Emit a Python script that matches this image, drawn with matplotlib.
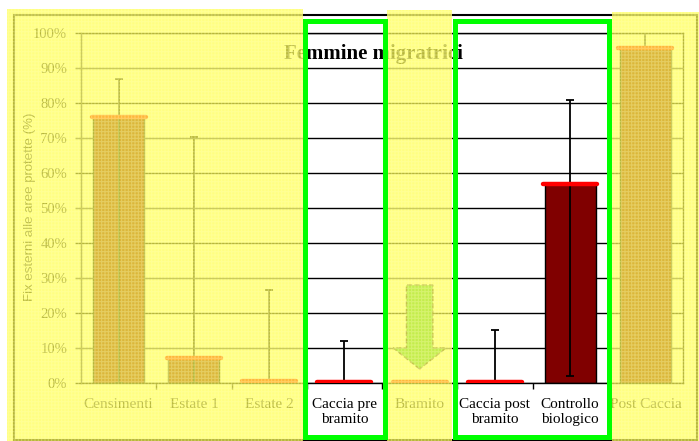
import matplotlib.pyplot as plt
from matplotlib.patches import Rectangle, FancyArrow
import numpy as np

# dati
categorie = ["Censimenti", "Estate 1", "Estate 2", "Caccia pre\nbramito", "Bramito",
             "Caccia post\nbramito", "Controllo\nbiologico", "Post Caccia"]
valori = [0.76, 0.072, 0.005, 0.003, 0.003, 0.003, 0.569, 0.957]
err_su = [0.11, 0.63, 0.26, 0.117, 0.0, 0.149, 0.241, 0.10]
err_giu = [0.76, 0.072, 0.005, 0.003, 0.0, 0.003, 0.549, 0.0]
tick_y = [0.0, 0.1, 0.2, 0.3, 0.4, 0.5, 0.6, 0.7, 0.8, 0.9, 1.0]
freccia = ("Bramito", 0.28, 0.04)  # categoria, inizio, fine

W, H = 699, 441
plt.rcParams['hatch.linewidth'] = 0.8
fig = plt.figure(figsize=(W / 100, H / 100), dpi=100)
fig.patch.set_facecolor("white")

def fx(px):
    return px / W

def fy(py):
    return 1 - py / H

ax = fig.add_axes([fx(81), fy(383), fx(683 - 81), (383 - 33) / H])
x = np.arange(len(categorie))

ax.bar(x, valori, width=0.68, color="#800000", edgecolor="black", linewidth=1, zorder=2)
idx = [i for i in range(len(x)) if err_su[i] > 0]
ax.errorbar(x[idx], np.array(valori)[idx],
            yerr=[np.array(err_giu)[idx], np.array(err_su)[idx]],
            fmt="none", ecolor="black", elinewidth=1.3, capsize=3, capthick=1.3, zorder=3)
lc = ax.hlines(valori, x - 0.36, x + 0.36, colors="#ff0000", linewidth=3.2, zorder=4)
lc.set_capstyle("round")

# freccia sul bramito
xi = categorie.index(freccia[0])
ax.add_patch(FancyArrow(xi, freccia[1], 0, freccia[2] - freccia[1], width=0.35,
                        head_width=0.7, head_length=0.06, length_includes_head=True,
                        facecolor="#30c040", edgecolor="#303030", linestyle="--",
                        linewidth=1, zorder=5))

ax.set_xlim(-0.5, len(categorie) - 0.5)
ax.set_ylim(0, 1)
ax.set_yticks(tick_y)
ax.set_yticklabels([f"{int(round(t * 100))}%" for t in tick_y], family="Liberation Serif", fontsize=10.5)
ax.set_xticks(x)
ax.set_xticklabels(categorie, family="Liberation Serif", fontsize=11, linespacing=1.15)
ax.set_xticks(np.arange(0.5, len(categorie) - 0.5), minor=True)
ax.tick_params(axis="x", which="major", length=0, pad=11)
ax.tick_params(axis="x", which="minor", length=4, direction="out", width=1)
ax.tick_params(axis="y", length=4, direction="out", width=1, pad=6)
ax.yaxis.grid(True, color="black", linewidth=1)
ax.set_axisbelow(True)
for s in ax.spines.values():
    s.set_color("black")
    s.set_linewidth(1)

fig.text(fx(373), fy(54), "Femmine migratrici", ha="center", va="center",
         family="Liberation Serif", fontweight="bold", fontsize=15, zorder=0.5)
fig.text(fx(30), fy(207), "Fix esterni alle aree protette (%)", ha="center", va="center",
         rotation=90, family="Liberation Sans", fontsize=9.5, zorder=0.5)

# bordo del grafico
fig.patches.append(Rectangle((fx(14), fy(440)), fx(697 - 14), (440 - 15) / H,
                             transform=fig.transFigure, fill=False, edgecolor="black",
                             linewidth=1.5, zorder=1.5))

# fasce gialle
for x0, y0, x1 in [(7, 9, 303), (387, 10, 452), (612, 12, 699)]:
    fig.patches.append(Rectangle((fx(x0), 0), fx(x1 - x0), fy(y0),
                                 transform=fig.transFigure, facecolor="#ffff50",
                                 alpha=0.72, edgecolor="none", zorder=2))
    fig.patches.append(Rectangle((fx(x0), 0), fx(x1 - x0), fy(y0),
                                 transform=fig.transFigure, facecolor="none",
                                 hatch="+++++", edgecolor="#ffffc0", alpha=0.3,
                                 linewidth=0, zorder=2.1))

# riquadri verdi
for x0, x1 in [(305, 384.5), (454.5, 609)]:
    fig.patches.append(Rectangle((fx(x0), fy(436.5)), fx(x1 - x0), (436.5 - 20.5) / H,
                                 transform=fig.transFigure, fill=False, edgecolor="#00ff00",
                                 linewidth=3.6, zorder=3))

fig.savefig("out.png", dpi=100)
